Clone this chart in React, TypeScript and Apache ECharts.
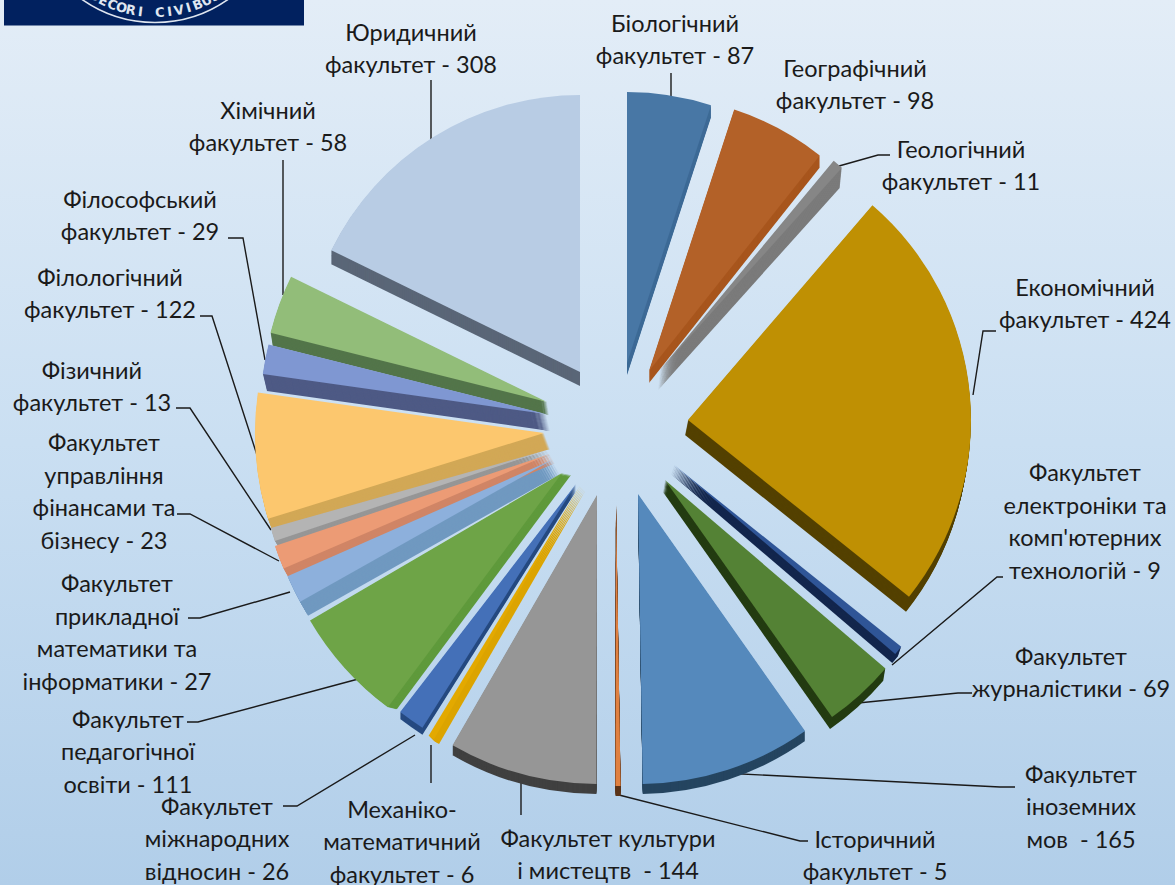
import React, { useEffect, useRef } from "react";
import * as echarts from "echarts";

const faculties = [
  "Біологічний\nфакультет - 87",
  "Географічний\nфакультет - 98",
  "Геологічний\nфакультет - 11",
  "Економічний\nфакультет - 424",
  "Факультет\nелектроніки та\nкомп'ютерних\nтехнологій - 9",
  "Факультет\nжурналістики - 69",
  "Факультет\nіноземних\nмов  - 165",
  "Історичний\nфакультет - 5",
  "Факультет культури\nі мистецтв  - 144",
  "Механіко-\nматематичний\nфакультет - 6",
  "Факультет\nміжнародних\nвідносин - 26",
  "Факультет\nпедагогічної\nосвіти - 111",
  "Факультет\nприкладної\nматематики та\nінформатики - 27",
  "Факультет\nуправління\nфінансами та\nбізнесу - 23",
  "Фізичний\nфакультет - 13",
  "Філологічний\nфакультет - 122",
  "Філософський\nфакультет - 29",
  "Хімічний\nфакультет - 58",
  "Юридичний\nфакультет - 308",
];
const students = [87, 98, 11, 424, 9, 69, 165, 5, 144, 6, 26, 111, 27, 23, 13, 122, 29, 58, 308];

const topColors = ["#4877a5", "#b36128", "#868686", "#bf9003", "#2f5597", "#548235", "#5589bc", "#e08040", "#969696", "#e3a900", "#4470b8", "#6ea447", "#8db0dc", "#ec9b75", "#b4b4b4", "#fcc76e", "#7f97d2", "#92bd79", "#b8cce4"];
const wallColors = ["#3d6a96", "#a8561e", "#7b7b7b", "#544100", "#13264d", "#243c12", "#254560", "#5a3318", "#404040", "#dca400", "#264a80", "#5f9a3c", "#7099c0", "#d08566", "#969696", "#d2a856", "#4e5a85", "#53754a", "#5a6677"];

// top-face apex x, y, radius, wall shift x, y, rotation in degrees
const sliceGeometry = [
  [627, 363, 271, 0, 12, 0],
  [649, 371, 275, 0, 12, 0],
  [660, 370, 272, -2, 20, 1.3],
  [688, 420, 283, -3, 15, 0],
  [674, 465, 291, -3, 9, 0],
  [665, 480, 290, -2, 12, 0],
  [638, 494, 290, 0, 10, 0],
  [616, 503, 283, 0, 10, 0],
  [597, 495, 289, 0, 10, 0],
  [580, 486, 292, 5, 5, 0],
  [576, 484, 288, 0, 7, 1],
  [562, 473, 292, 9, 2, 0],
  [552, 460, 289, 8, 14, 1],
  [550, 454, 290, 5, 9, 1.5],
  [547, 450, 287, 3, 5, 1.5],
  [544, 433, 289, 6, 16, 0],
  [546, 414, 286, 4, 17, 0],
  [547, 402, 285, 2, 13, 0],
  [580, 372, 277, 0, 14, 0],
];

// label block centre x, y
const labelPositions = [
  [675, 39], [855, 84], [961, 165], [1085, 303], [1085, 521], [1071, 672], [1081, 806], [875, 855], [608, 854], [402, 841],
  [217, 838], [128, 751], [117, 632], [104, 491], [92, 386], [110, 293], [140, 215], [268, 126], [411, 48],
];

const leaderLines: (number[][] | null)[] = [
  [[671, 97], [671, 85], [671, 73]],
  null,
  [[839, 166], [878, 155], [890, 155]],
  [[973, 395], [983, 331], [996, 331]],
  [[892, 665], [997, 577], [1003, 577]],
  [[858, 703], [958, 693], [972, 693]],
  [[722, 773], [1000, 787], [1015, 787]],
  [[619, 795], [800, 841], [808, 841]],
  [[521, 783], [521, 800], [521, 815]],
  [[431, 745], [431, 765], [431, 783]],
  [[415, 735], [297, 806], [283, 806]],
  [[362, 678], [198, 722], [187, 722]],
  [[290, 592], [200, 618], [188, 618]],
  [[279, 561], [190, 514], [177, 514]],
  [[271, 530], [190, 408], [176, 408]],
  [[257, 455], [212, 316], [200, 316]],
  [[265, 360], [243, 238], [228, 238]],
  [[283, 295], [283, 230], [283, 160]],
  [[431, 140], [431, 110], [431, 80]],
];

const mottoLetters = "DECORI CIVIBUS";

function slicePie(i: number, shift: number, color: string) {
  const [x, y, r, dx, dy, turn] = sliceGeometry[i];
  const before = students.slice(0, i).reduce((a, b) => a + b, 0);
  const after = students.slice(i + 1).reduce((a, b) => a + b, 0);
  const hidden = { color: "transparent", opacity: 0 };
  return {
    type: "pie",
    silent: true,
    animation: false,
    startAngle: 90 - turn,
    clockwise: true,
    center: [x + dx * shift, y + dy * shift],
    radius: [0, r],
    label: { show: false },
    labelLine: { show: false },
    emphasis: { disabled: true },
    data: [
      { value: before, itemStyle: hidden },
      { value: students[i], name: faculties[i], itemStyle: { color } },
      { value: after, itemStyle: hidden },
    ],
  };
}

function wallSweep(i: number) {
  const [, , , dx, dy] = sliceGeometry[i];
  const steps = Math.max(2, Math.ceil(Math.max(Math.abs(dx), Math.abs(dy))));
  const layers: any[] = [];
  for (let s = steps; s >= 1; s--) layers.push(slicePie(i, s / steps, wallColors[i]));
  return layers;
}

function mottoGraphics() {
  const cx = 155;
  const cy = -104.5;
  const textR = 117;
  const step = (4.75 * Math.PI) / 180;
  const items: any[] = [
    { type: "rect", shape: { x: 4, y: 0, width: 300, height: 25.5 }, style: { fill: "#01215f" } },
    { type: "arc", shape: { cx, cy, r: 127, startAngle: (53 * Math.PI) / 180, endAngle: (127 * Math.PI) / 180 }, style: { stroke: "#dfe6f0", lineWidth: 1.6, fill: "none" } },
  ];
  mottoLetters.split("").forEach((ch, i) => {
    const t = (i - 6.5) * step;
    items.push({
      type: "text",
      x: cx + textR * Math.sin(t),
      y: cy + textR * Math.cos(t),
      rotation: t,
      style: { text: ch, fill: "#dfe6f0", font: "bold 13px 'DejaVu Sans'", align: "center", verticalAlign: "middle" },
    });
  });
  return items;
}

export default function App() {
  const ref = useRef<HTMLDivElement>(null);
  useEffect(() => {
    const chart = echarts.init(ref.current!, undefined, { renderer: "svg" });
    const walls = students.flatMap((_, i) => wallSweep(i));
    const tops = students.map((_, i) => slicePie(i, 0, topColors[i]));
    chart.setOption({
      animation: false,
      backgroundColor: {
        type: "linear", x: 0, y: 0, x2: 0, y2: 1,
        colorStops: [{ offset: 0, color: "#e3edf7" }, { offset: 0.5, color: "#cadff2" }, { offset: 1, color: "#b1cee9" }],
      },
      graphic: mottoGraphics(),
      series: [
        ...walls,
        ...tops,
        {
          type: "pie",
          silent: true,
          animation: false,
          startAngle: 90,
          center: [615, 430],
          radius: [0, 290],
          avoidLabelOverlap: false,
          emphasis: { disabled: true },
          itemStyle: { color: "transparent", opacity: 0 },
          label: {
            show: true,
            position: "outside",
            formatter: "{b}",
            color: "#1a1a1a",
            fontFamily: "Lato, 'Noto Sans'",
            fontSize: 23.5,
            lineHeight: 32.5,
            align: "center",
            opacity: 1,
          },
          labelLine: { show: true, lineStyle: { color: "#1a1a1a", width: 1.4, opacity: 1 } },
          labelLayout: (p: any) => {
            const i = p.dataIndex;
            const [x, y] = labelPositions[i];
            const points = leaderLines[i];
            return { x, y, align: "center", verticalAlign: "middle", ...(points ? { labelLinePoints: points } : {}) };
          },
          data: students.map((value, k) => ({
            value,
            name: faculties[k],
            labelLine: { show: leaderLines[k] !== null },
          })),
        },
      ],
    });
    return () => chart.dispose();
  }, []);
  return <div ref={ref} style={{ position: "fixed", left: 0, top: 0, width: 1175, height: 885 }} />;
}
